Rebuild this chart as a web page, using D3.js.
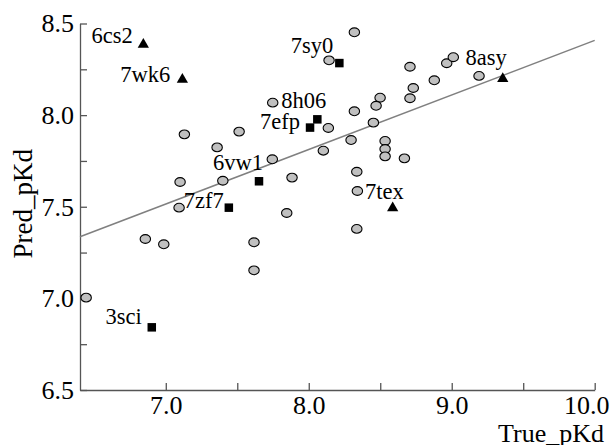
<!DOCTYPE html>
<html>
<head>
<meta charset="utf-8">
<script src="https://cdn.jsdelivr.net/npm/d3@7"></script>
<style>
  html, body { margin: 0; padding: 0; background: #fff; }
  svg { display: block; font-family: "Liberation Serif", "Times New Roman", serif; }
  svg text { font-family: "Liberation Serif", "Times New Roman", serif; }
</style>
</head>
<body>
<svg id="chart" width="613" height="445"></svg>
<script>
// Unlabelled complexes (grey circles): true vs predicted pKd
const circleTrue = [7.748, 7.130, 7.513, 7.359, 7.745, 7.883, 7.100, 7.399, 7.093, 7.846,
  8.319, 8.142, 8.708, 8.965, 9.011, 8.878, 9.191, 8.731, 8.708, 8.499,
  8.471, 8.319, 8.137, 8.452, 8.296, 8.102, 8.534, 8.534, 8.534, 8.669,
  8.336, 8.340, 6.857, 6.986, 7.617, 7.617, 6.443, 8.336];
const circlePred = [8.068, 7.895, 7.910, 7.824, 7.759, 7.659, 7.635, 7.642, 7.495, 7.466,
  8.452, 8.299, 8.264, 8.283, 8.316, 8.190, 8.214, 8.148, 8.092, 8.095,
  8.051, 8.021, 7.930, 7.959, 7.864, 7.806, 7.859, 7.815, 7.775, 7.764,
  7.691, 7.586, 7.324, 7.295, 7.306, 7.153, 7.004, 7.379];

// Labelled complexes drawn as black squares
const squareIds  = ["7efp", "8h06", "7sy0", "6vw1", "7zf7", "3sci"];
const squareTrue = [8.009, 8.060, 8.214, 7.652, 7.441, 6.902];
const squarePred = [7.932, 7.977, 8.284, 7.639, 7.495, 6.842];

// Labelled complexes drawn as black triangles
const triangleIds  = ["6cs2", "7wk6", "8asy", "7tex"];
const triangleTrue = [6.843, 7.116, 9.357, 8.587];
const trianglePred = [8.388, 8.197, 8.201, 7.496];

// Fitted trend line end points
const fitTrue = [6.4, 10.0];
const fitPred = [7.336, 8.408];

// Axis ticks
const xTicks = [7.0, 8.0, 9.0, 10.0];
const xMinorTicks = [7.5, 8.5, 9.5];
const yTicks = [6.5, 7.0, 7.5, 8.0, 8.5];
const yMinorTicks = [6.75, 7.25, 7.75, 8.25];

const xTitle = "True_pKd";
const yTitle = "Pred_pKd";

const W = 613, H = 445;
const margin = { top: 23.5, right: 18.3, bottom: 55, left: 80 };
const serif = "'Liberation Serif', 'Times New Roman', serif";

const svg = d3.select("#chart");

const x = d3.scaleLinear().domain([6.4, 10.0]).range([margin.left, W - margin.right]);
const y = d3.scaleLinear().domain([6.5, 8.5]).range([H - margin.bottom, margin.top]);

const axisColor = "#555";
const fmt = d3.format(".1f");

// X axis (ticks point into the plot)
const gx = svg.append("g").attr("transform", `translate(0,${H - margin.bottom})`)
  .call(d3.axisBottom(x).tickValues(xTicks).tickFormat(fmt).tickSizeInner(-7).tickSizeOuter(0).tickPadding(5.5));
svg.append("g").attr("transform", `translate(0,${H - margin.bottom})`)
  .call(d3.axisBottom(x).tickValues(xMinorTicks).tickFormat("").tickSizeInner(-7).tickSizeOuter(0))
  .select(".domain").remove();

// Y axis
svg.append("g").attr("transform", `translate(${margin.left},0)`)
  .call(d3.axisLeft(y).tickValues(yTicks).tickFormat(fmt).tickSizeInner(-7).tickSizeOuter(0).tickPadding(6));
svg.append("g").attr("transform", `translate(${margin.left},0)`)
  .call(d3.axisLeft(y).tickValues(yMinorTicks).tickFormat("").tickSizeInner(-7).tickSizeOuter(0))
  .select(".domain").remove();

svg.selectAll("g").attr("font-family", serif).attr("font-size", 26);
svg.selectAll(".domain, .tick line").attr("stroke", axisColor).attr("stroke-width", 1.3);
svg.selectAll(".tick text")
  .attr("fill", "#000")
  .style("font-family", serif)
  .style("font-size", "26px");

// Keep the last x label inside the frame
gx.selectAll(".tick text")
  .filter(d => d === xTicks[xTicks.length - 1])
  .attr("text-anchor", "end")
  .attr("x", W - 4 - x(xTicks[xTicks.length - 1]));

// Axis titles
svg.append("text")
  .attr("x", 604).attr("y", 441.5)
  .attr("text-anchor", "end")
  .style("font-size", "26px")
  .text(xTitle);
svg.append("text")
  .attr("transform", "translate(31.5,258.5) rotate(-90)")
  .attr("text-anchor", "start")
  .style("font-size", "27px")
  .text(yTitle);

// Trend line
svg.append("line")
  .attr("x1", x(fitTrue[0])).attr("y1", y(fitPred[0]))
  .attr("x2", x(fitTrue[1])).attr("y2", y(fitPred[1]))
  .attr("stroke", "#808080").attr("stroke-width", 1.5);

// Grey circles
svg.append("g").selectAll("ellipse")
  .data(circleTrue.map((t, i) => [t, circlePred[i]]))
  .join("ellipse")
  .attr("cx", d => x(d[0])).attr("cy", d => y(d[1]))
  .attr("rx", 5.2).attr("ry", 4.4)
  .attr("fill", "#c0c0c0").attr("stroke", "#000").attr("stroke-width", 1.1);

// Black squares
const sq = 8.5;
svg.append("g").selectAll("rect")
  .data(squareTrue.map((t, i) => [t, squarePred[i]]))
  .join("rect")
  .attr("x", d => x(d[0]) - sq / 2).attr("y", d => y(d[1]) - sq / 2)
  .attr("width", sq).attr("height", sq)
  .attr("fill", "#000");

// Black triangles
const tri = d3.symbol().type(d3.symbolTriangle).size(55);
svg.append("g").selectAll("path")
  .data(triangleTrue.map((t, i) => [t, trianglePred[i]]))
  .join("path")
  .attr("transform", d => `translate(${x(d[0])},${y(d[1]) + 0.5})`)
  .attr("d", tri)
  .attr("fill", "#000");

// Point labels: offsets from each marker (dx, dy in px)
const labelOffsets = {
  "7efp": [-10, 1.5], "8h06": [9, -11], "7sy0": [-6, -10], "6vw1": [4, -11],
  "7zf7": [-5, 0], "3sci": [-10, -3],
  "6cs2": [-10.6, -1], "7wk6": [-12, 3], "8asy": [4, -13], "7tex": [11, -8]
};
const labelled = [
  ...squareIds.map((id, i) => ({ id, t: squareTrue[i], p: squarePred[i] })),
  ...triangleIds.map((id, i) => ({ id, t: triangleTrue[i], p: trianglePred[i] }))
];
svg.append("g").selectAll("text")
  .data(labelled)
  .join("text")
  .attr("x", d => x(d.t) + labelOffsets[d.id][0])
  .attr("y", d => y(d.p) + labelOffsets[d.id][1])
  .attr("text-anchor", "end")
  .style("font-size", "22.5px")
  .text(d => d.id);
</script>
</body>
</html>
